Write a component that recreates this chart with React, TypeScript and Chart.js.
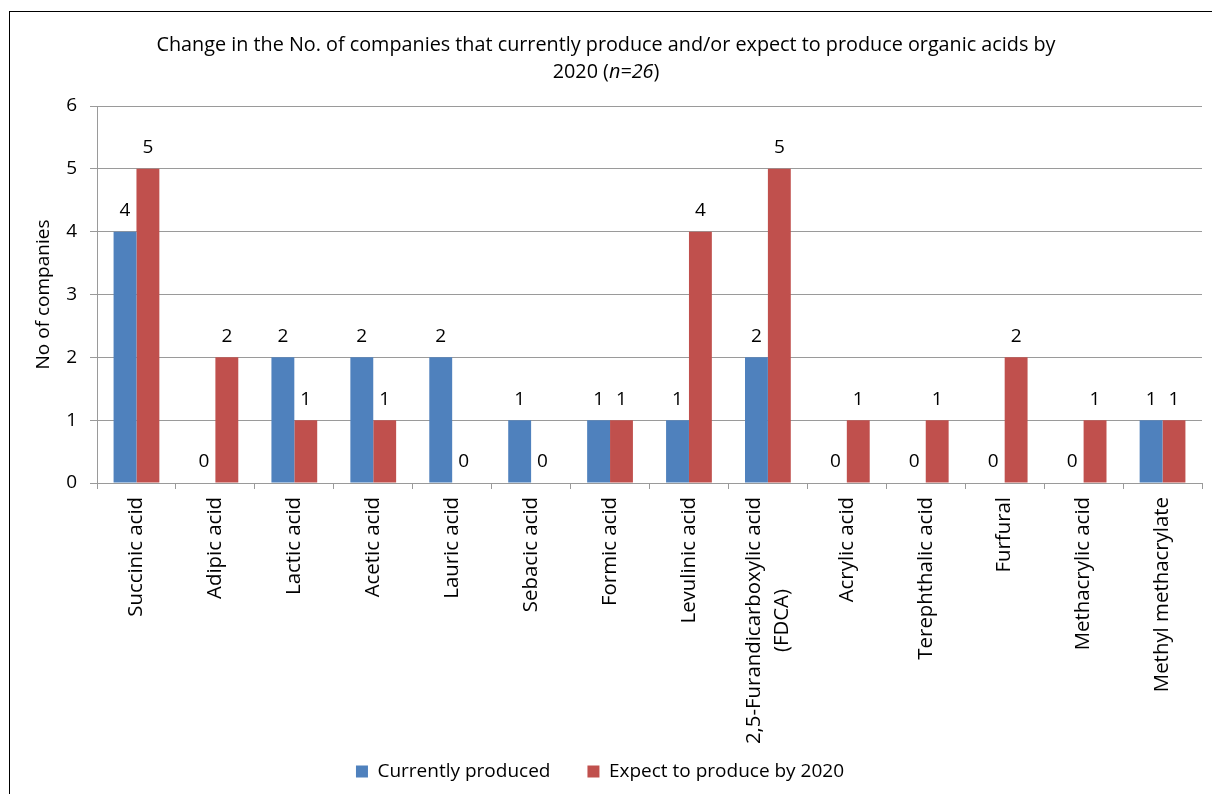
import React, { useEffect, useRef } from 'react';
import { Chart, registerables } from 'chart.js';

Chart.register(...registerables);

const categories: (string | string[])[] = [
  'Succinic acid',
  'Adipic acid',
  'Lactic acid',
  'Acetic acid',
  'Lauric acid',
  'Sebacic acid',
  'Formic acid',
  'Levulinic acid',
  ['2,5-Furandicarboxylic acid', '(FDCA)'],
  'Acrylic acid',
  'Terephthalic acid',
  'Furfural',
  'Methacrylic acid',
  'Methyl methacrylate',
];
const currentlyProduced = [4, 0, 2, 2, 2, 1, 1, 1, 2, 0, 0, 0, 0, 1];
const expectBy2020 = [5, 2, 1, 1, 0, 0, 1, 4, 5, 1, 1, 2, 1, 1];
const seriesNames = ['Currently produced', 'Expect to produce by 2020'];
const seriesColors = ['#4F81BD', '#C0504D'];
const yMin = 0;
const yMax = 6;
const yStep = 1;
const titleLine1 = 'Change in the No. of companies that currently produce and/or expect to produce organic acids by';
const titleLine2Parts = [
  { text: '2020 (', italic: false },
  { text: 'n=26', italic: true },
  { text: ')', italic: false },
];
const yAxisTitle = 'No of companies';

const FONT = '"Open Sans", Lato, sans-serif';
const FS = 19;
const TITLE_FS = 19.8;
const XLAB_FS = 20.4;

const titlePlugin = {
  id: 'mixedTitle',
  afterDraw(chart: any) {
    const ctx = chart.ctx;
    const cx = chart.width / 2;
    ctx.save();
    ctx.fillStyle = '#000';
    ctx.textBaseline = 'middle';
    ctx.textAlign = 'center';
    ctx.font = `${TITLE_FS}px ${FONT}`;
    ctx.fillText(titleLine1, cx, 45);
    let total = 0;
    const widths = titleLine2Parts.map((p) => {
      ctx.font = `${p.italic ? 'italic ' : ''}${TITLE_FS}px ${FONT}`;
      const w = ctx.measureText(p.text).width;
      total += w;
      return w;
    });
    let x = cx - total / 2;
    ctx.textAlign = 'left';
    titleLine2Parts.forEach((p, i) => {
      ctx.font = `${p.italic ? 'italic ' : ''}${TITLE_FS}px ${FONT}`;
      ctx.fillText(p.text, x, 72);
      x += widths[i];
    });
    ctx.restore();
  },
};

const xLabelPlugin = {
  id: 'xLabels',
  afterDraw(chart: any) {
    const ctx = chart.ctx;
    const xs = chart.scales.x;
    const top = chart.chartArea.bottom + 14;
    const lh = 28;
    ctx.save();
    ctx.fillStyle = '#000';
    ctx.font = `${XLAB_FS}px ${FONT}`;
    ctx.textBaseline = 'middle';
    ctx.textAlign = 'center';
    categories.forEach((c, i) => {
      const lines = Array.isArray(c) ? c : [c];
      const w = Math.max(...lines.map((l) => ctx.measureText(l).width));
      const x = xs.getPixelForValue(i);
      ctx.save();
      ctx.translate(x, top);
      ctx.rotate(-Math.PI / 2);
      lines.forEach((l, k) => {
        const ly = (k - (lines.length - 1) / 2) * lh;
        ctx.fillText(l, -w / 2, ly);
      });
      ctx.restore();
    });
    ctx.restore();
  },
};

const valueLabelPlugin = {
  id: 'valueLabels',
  afterDatasetsDraw(chart: any) {
    const ctx = chart.ctx;
    ctx.save();
    ctx.fillStyle = '#000';
    ctx.font = `${FS}px ${FONT}`;
    ctx.textAlign = 'center';
    ctx.textBaseline = 'middle';
    chart.data.datasets.forEach((ds: any, di: number) => {
      const meta = chart.getDatasetMeta(di);
      meta.data.forEach((el: any, i: number) => {
        ctx.fillText(String(ds.data[i]), el.x, el.y - 21);
      });
    });
    ctx.restore();
  },
};

const legendShiftPlugin = {
  id: 'legendShift',
  afterLayout(chart: any) {
    const lg = chart.legend;
    if (lg) {
      lg.left -= 15;
      lg.right -= 15;
    }
  },
};

export default function App() {
  const ref = useRef<HTMLCanvasElement | null>(null);
  useEffect(() => {
    if (!ref.current) return;
    const chart = new Chart(ref.current, {
      type: 'bar',
      data: {
        labels: categories as any,
        datasets: [
          {
            label: seriesNames[0],
            data: currentlyProduced,
            backgroundColor: seriesColors[0],
            categoryPercentage: 0.58,
            barPercentage: 1,
          },
          {
            label: seriesNames[1],
            data: expectBy2020,
            backgroundColor: seriesColors[1],
            categoryPercentage: 0.58,
            barPercentage: 1,
          },
        ],
      },
      options: {
        animation: false,
        responsive: false,
        maintainAspectRatio: false,
        layout: { padding: { top: 106, left: 28, right: 10, bottom: 3 } },
        plugins: {
          title: { display: false },
          tooltip: { enabled: false },
          legend: {
            position: 'bottom',
            labels: {
              boxWidth: 12,
              boxHeight: 12,
              padding: 37,
              color: '#000',
              font: { family: FONT, size: FS },
            },
          },
        },
        scales: {
          x: {
            offset: true,
            ticks: { display: false },
            grid: {
              display: true,
              drawOnChartArea: false,
              offset: true,
              tickLength: 6,
              color: '#9a9a9a',
            },
            border: { color: '#9a9a9a' },
            afterFit(scale: any) {
              scale.height = 242;
            },
          },
          y: {
            min: yMin,
            max: yMax,
            ticks: {
              stepSize: yStep,
              padding: 13,
              color: '#000',
              font: { family: FONT, size: FS },
            },
            grid: { color: '#9a9a9a', tickLength: 7 },
            border: { color: '#9a9a9a' },
            title: {
              display: true,
              text: yAxisTitle,
              color: '#000',
              font: { family: FONT, size: FS },
            },
            afterFit(scale: any) {
              scale.width = 69;
            },
          },
        },
      },
      plugins: [titlePlugin, xLabelPlugin, valueLabelPlugin, legendShiftPlugin],
    });
    return () => chart.destroy();
  }, []);
  return (
    <div style={{ position: 'fixed', left: 0, top: 0, width: 1212, height: 794, overflow: 'hidden', background: '#fff' }}>
      <canvas ref={ref} width={1212} height={794} style={{ position: 'absolute', left: 0, top: 0 }} />
      <div
        style={{
          position: 'absolute',
          left: 9,
          top: 11,
          width: 1400,
          height: 1000,
          borderLeft: '1px solid #000',
          borderTop: '1px solid #000',
          pointerEvents: 'none',
        }}
      />
    </div>
  );
}
